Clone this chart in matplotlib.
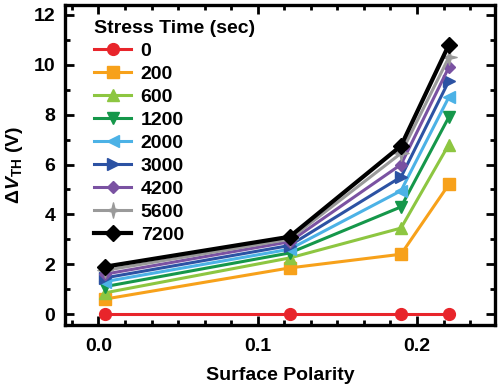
import numpy as np
import matplotlib
matplotlib.use("Agg")
import matplotlib.pyplot as plt
from matplotlib.ticker import MultipleLocator, AutoMinorLocator, FormatStrFormatter
from matplotlib.path import Path

plt.rcParams["font.family"] = ["Liberation Sans", "DejaVu Sans"]
plt.rcParams["font.weight"] = "bold"
plt.rcParams["mathtext.fontset"] = "custom"
plt.rcParams["mathtext.rm"] = "Liberation Sans:bold"
plt.rcParams["mathtext.bf"] = "Liberation Sans:bold"
plt.rcParams["mathtext.it"] = "Liberation Sans:bold:italic"

polarity = [0.004, 0.12, 0.19, 0.22]
stress_times = ["0", "200", "600", "1200", "2000", "3000", "4200", "5600", "7200"]
dvth = {
    "0":    [0.0, 0.0, 0.0, 0.0],
    "200":  [0.6, 1.85, 2.4, 5.2],
    "600":  [0.85, 2.25, 3.45, 6.8],
    "1200": [1.1, 2.45, 4.3, 7.9],
    "2000": [1.3, 2.6, 4.95, 8.7],
    "3000": [1.45, 2.75, 5.5, 9.35],
    "4200": [1.6, 2.9, 6.0, 9.9],
    "5600": [1.75, 3.0, 6.45, 10.3],
    "7200": [1.9, 3.1, 6.75, 10.8],
}

# four-point star for the 5600 s series
t = np.linspace(0, 2 * np.pi, 9)[:-1] + np.pi / 2
r = np.where(np.arange(8) % 2 == 0, 1.0, 0.28)
star4 = Path(np.column_stack([r * np.cos(t), r * np.sin(t)]).tolist() + [[0, 1]], closed=True)

colors = ["#e8252b", "#f7a11a", "#8dc641", "#15974a", "#4cb2e6",
          "#2c52a3", "#7a52a2", "#9a9a9a", "#000000"]
markers = ["o", "s", "^", "v", "<", ">", "D", star4, "D"]
msizes = [8.5, 8.5, 8.5, 8.5, 8.5, 8.5, 6, 11, 8.5]
lws = [2.2, 2.2, 2.2, 2.2, 2.2, 2.2, 2.2, 2.2, 3.0]
FS = 14

fig = plt.figure(figsize=(5.0, 3.86), dpi=100)
ax = fig.add_axes([0.13, 0.158, 0.86, 0.829])

for st, c, m, ms, lw in zip(stress_times, colors, markers, msizes, lws):
    ax.plot(polarity, dvth[st], color=c, marker=m, ms=ms, lw=lw,
            mec=c, mfc=c, label=st)

ax.set_xlim(-0.021, 0.249)
ax.set_ylim(-0.44, 12.4)
ax.xaxis.set_major_locator(MultipleLocator(0.1))
ax.xaxis.set_minor_locator(AutoMinorLocator(6))
ax.yaxis.set_major_locator(MultipleLocator(2))
ax.yaxis.set_minor_locator(AutoMinorLocator(2))
ax.xaxis.set_major_formatter(FormatStrFormatter("%.1f"))
ax.tick_params(which="both", direction="in", top=True, right=True,
               width=2, labelsize=FS)
ax.tick_params(axis="x", pad=9)
ax.tick_params(axis="y", pad=7)
ax.tick_params(which="major", length=6.5)
ax.tick_params(which="minor", length=3.5)
for sp in ax.spines.values():
    sp.set_linewidth(2.4)

ax.set_xlabel("Surface Polarity", fontsize=FS, fontweight="bold", labelpad=9)
ax.set_ylabel(r"$\Delta\mathit{V}_{\mathrm{TH}}$ (V)", fontsize=FS,
              fontweight="bold", labelpad=6)

leg = ax.legend(title="Stress Time (sec)", loc="upper left", frameon=False,
                fontsize=FS, title_fontproperties={"weight": "bold", "size": FS},
                handlelength=1.9, handletextpad=0.5, labelspacing=0.28,
                borderaxespad=0.2, borderpad=0.3, bbox_to_anchor=(0.045, 0.985))
leg._legend_box.align = "left"

fig.savefig("out.png", dpi=100)
